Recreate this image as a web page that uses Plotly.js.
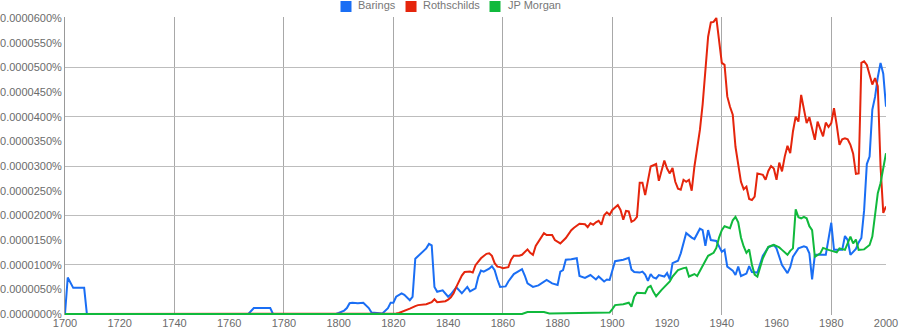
<!DOCTYPE html>
<html><head><meta charset="utf-8">
<script src="https://cdn.plot.ly/plotly-3.0.1.min.js"></script>
<style>html,body{margin:0;padding:0;background:#fff;overflow:hidden}</style>
</head><body><div id="chart" style="width:900px;height:330px"></div>
<script>
// Values in units of 0.0000010 % (so 60 = 0.0000600 %)
const seriesNames = ["Barings", "Rothschilds", "JP Morgan"];
const seriesColors = ["#1a6ef4", "#e5250c", "#10b93c"];

const baringsYears = [1700,1701,1703,1707,1708,1767,1769,1775,1776,1799,1800,1802,1803,1804,1805,1807,1809,1810,1811,1812,1816,1818,1819,1820,1821,1823,1824,1826,1827,1828,1830,1832,1833,1834,1835,1836,1838,1840,1841,1843,1845,1847,1848,1850,1851,1852,1853,1855,1856,1857,1858,1859,1861,1862,1864,1866,1867,1868,1869,1871,1873,1876,1878,1880,1881,1882,1883,1885,1887,1888,1890,1892,1894,1895,1897,1898,1899,1901,1904,1906,1907,1908,1910,1911,1912,1913,1914,1915,1916,1917,1919,1920,1921,1922,1924,1925,1927,1929,1930,1932,1933,1934,1935,1936,1938,1940,1941,1942,1944,1945,1946,1947,1949,1950,1951,1953,1955,1957,1959,1960,1962,1964,1965,1966,1968,1970,1971,1972,1973,1974,1978,1980,1981,1984,1985,1986,1987,1989,1990,1991,1992,1993,1994,1995,1996,1997,1998,1999,2000];
const baringsValues = [0,7.4,5.3,5.3,0,0,1.2,1.2,0,0,0.2,0.7,1.2,2.2,2.3,2.2,2.3,1.8,1.2,0.3,0.1,1.2,2.3,2.3,3.5,4.2,3.9,2.8,3.5,11.2,12.2,13.3,14.2,13.9,5.5,4.5,4.8,3.5,4.0,5.4,4.2,5.5,4.6,5.2,7.5,8.8,8.6,9.2,9.7,8.9,7.0,5.5,5.6,6.6,8.1,8.8,9.1,7.8,6.2,5.5,5.8,6.9,6.2,5.9,8.6,8.9,11.0,11.1,11.3,7.7,7.3,7.9,7.0,7.6,6.6,7.0,6.9,10.7,11.0,11.4,9.0,8.5,8.4,8.6,8.0,6.7,8.1,7.4,7.2,7.9,7.6,8.3,7.0,10.3,10.8,12.3,16.4,15.5,15.2,17.3,17.0,13.8,17.0,15.0,14.8,12.6,13.0,9.6,8.8,7.9,9.6,7.7,8.2,9.7,8.5,8.4,11.8,13.5,14.0,13.3,9.9,8.3,9.5,11.6,13.3,13.7,13.5,12.3,7.0,12.0,12.0,18.5,13.0,13.0,15.8,15.0,12.0,13.2,14.5,15.4,21.0,30.4,31.9,41.4,44.0,48.0,50.9,48.7,42.0];

const rothschildsYears = [1700,1820,1821,1822,1824,1826,1828,1829,1832,1834,1835,1836,1839,1840,1841,1842,1843,1844,1845,1846,1848,1849,1850,1852,1853,1854,1855,1856,1857,1858,1859,1860,1862,1863,1864,1866,1867,1869,1870,1871,1872,1874,1875,1876,1878,1879,1880,1881,1883,1885,1886,1888,1890,1891,1892,1893,1894,1895,1896,1897,1898,1899,1900,1901,1902,1903,1904,1905,1906,1907,1908,1909,1910,1911,1912,1914,1916,1917,1919,1920,1921,1922,1923,1924,1925,1926,1927,1928,1929,1930,1931,1932,1933,1934,1935,1936,1937,1938,1939,1940,1941,1942,1943,1944,1945,1946,1947,1948,1949,1950,1951,1952,1953,1955,1956,1957,1958,1959,1960,1961,1962,1963,1964,1965,1966,1967,1968,1969,1970,1971,1972,1973,1974,1975,1976,1977,1978,1979,1980,1981,1982,1983,1984,1985,1986,1987,1988,1989,1990,1991,1992,1993,1994,1995,1996,1997,1998,1999,2000];
const rothschildsValues = [0,0,0.1,0.2,0.6,1.1,1.6,1.8,2.0,2.4,3.0,2.4,2.6,2.9,3.4,4.2,5.5,6.8,7.8,8.5,8.6,8.4,9.9,11.3,11.8,12.2,12.3,11.8,10.3,9.6,9.5,9.3,9.5,11.0,11.8,11.8,12.0,13.1,12.4,12.0,13.8,15.5,16.4,16.0,16.0,15.0,14.7,14.3,15.4,17.0,17.5,18.3,18.2,17.6,18.4,18.1,18.6,18.9,18.1,20.0,20.6,20.1,21.1,21.6,22.1,21.1,19.1,20.9,20.8,18.7,19.0,19.7,26.6,26.6,24.1,29.9,30.4,27.0,31.1,29.5,28.5,29.6,26.8,25.4,25.2,27.2,26.8,27.2,25.0,29.9,33.5,37.3,42.5,49.0,56.2,59.1,59.2,60.0,55.0,50.9,50.5,44.1,42.0,40.4,33.9,30.6,26.8,25.3,25.8,23.3,23.1,23.8,28.5,28.2,27.2,29.0,30.0,29.5,27.2,30.7,28.9,31.9,34.1,32.6,37.0,40.0,39.0,44.4,41.4,38.7,39.9,37.7,35.3,39.0,37.5,36.0,38.8,37.9,38.7,41.7,38.3,34.3,35.4,35.6,35.4,34.3,32.5,28.4,28.5,50.9,51.2,50.5,48.5,46.5,47.8,46.2,30.0,20.5,21.8];

const jpMorganYears = [1700,1867,1869,1875,1877,1898,1899,1900,1901,1904,1906,1907,1908,1909,1912,1913,1914,1915,1916,1918,1919,1920,1921,1922,1924,1926,1927,1928,1930,1931,1933,1935,1937,1938,1939,1940,1941,1942,1943,1944,1945,1946,1947,1948,1949,1950,1951,1952,1953,1955,1957,1959,1961,1962,1964,1965,1966,1967,1968,1969,1970,1971,1972,1973,1974,1976,1977,1979,1982,1983,1985,1987,1988,1989,1990,1992,1993,1994,1995,1996,1997,1998,2000];
const jpMorganValues = [0,0,0.4,0.4,0.1,0.2,0.3,1.0,1.8,2.0,2.3,1.5,3.5,4.3,4.2,5.4,5.7,4.5,3.6,4.9,5.5,5.9,6.6,7.6,8.9,9.3,9.4,7.6,8.1,7.7,9.8,11.8,12.4,13.4,15.5,17.0,17.8,17.6,17.4,19.0,19.7,18.6,15.5,13.7,12.4,13.1,10.0,8.0,7.6,11.3,13.6,14.0,13.5,13.0,12.0,12.8,13.3,21.2,19.6,19.4,19.7,19.4,17.8,17.0,11.6,12.3,13.4,13.0,12.5,13.3,13.0,15.7,14.3,15.1,13.0,13.1,13.5,14.0,15.7,20.5,24.5,26.5,32.6];

const xTickValues = [1700,1720,1740,1760,1780,1800,1820,1840,1860,1880,1900,1920,1940,1960,1980,2000];
const xTickLabels = xTickValues.map(String);
const yTickValues = [0,5,10,15,20,25,30,35,40,45,50,55,60];
const yTickLabels = yTickValues.map(v => (v * 1e-6).toFixed(7) + "%");

const allYears = [baringsYears, rothschildsYears, jpMorganYears];
const allValues = [baringsValues, rothschildsValues, jpMorganValues];
const legendIds = ['legend', 'legend2', 'legend3'];
const legendX = [0.3179, 0.3971, 0.4994];      // legend square positions (paper x)
const legendLabelX = [0.3551, 0.4343, 0.5378]; // legend label positions (paper x)

const traces = [];
traces.push({x: baringsYears, y: baringsValues, xaxis: 'x2', yaxis: 'y2', mode: 'lines',
  line: {width: 0}, opacity: 0, hoverinfo: 'skip', showlegend: false});
for (let i = 0; i < 3; i++) {
  traces.push({x: allYears[i], y: allValues[i], mode: 'lines', name: seriesNames[i],
    line: {color: seriesColors[i], width: 2}, showlegend: false, hoverinfo: 'skip'});
}
for (let i = 0; i < 3; i++) {
  traces.push({x: [null], y: [null], mode: 'markers', name: '', legend: legendIds[i],
    marker: {symbol: 'square', size: 11, color: seriesColors[i]}, showlegend: true});
}

function legendDef(i) {
  return {orientation: 'h', x: legendX[i], xanchor: 'left', y: 0.9866, yanchor: 'bottom',
    font: {size: 11, color: '#777777'}, bgcolor: 'rgba(0,0,0,0)', itemwidth: 30};
}

const annotations = seriesNames.map((name, i) => ({
  text: name, xref: 'paper', yref: 'paper', x: legendLabelX[i], y: 1.0386,
  xanchor: 'left', yanchor: 'middle', showarrow: false,
  font: {size: 11, color: '#777777'}, borderpad: 0
}));

const layout = {
  width: 900, height: 330,
  margin: {l: 65, r: 14, t: 17, b: 15, autoexpand: false},
  paper_bgcolor: '#ffffff', plot_bgcolor: '#ffffff',
  font: {family: '"Liberation Sans", Arial, sans-serif', size: 11, color: '#6b6b6b'},
  showlegend: true,
  legend: legendDef(0), legend2: legendDef(1), legend3: legendDef(2),
  annotations: annotations,
  xaxis: {range: [1700, 2000], tickmode: 'array', tickvals: xTickValues, ticktext: xTickLabels,
    showgrid: false, zeroline: false, showline: false, ticks: '', fixedrange: true},
  yaxis: {range: [-0.2, 60.2], tickmode: 'array', tickvals: yTickValues, ticktext: yTickLabels,
    showgrid: false, zeroline: false, showline: true, linecolor: '#999999', linewidth: 1,
    ticks: '', fixedrange: true},
  xaxis2: {overlaying: 'x', anchor: 'y2', range: [1700, 2000], tick0: 1700, dtick: 40,
    showgrid: true, gridcolor: '#a8a8a8', gridwidth: 1, showticklabels: false, zeroline: false,
    ticks: '', showline: false, fixedrange: true},
  yaxis2: {overlaying: 'y', anchor: 'x2', range: [-0.2, 60.2], tick0: 0, dtick: 10,
    showgrid: true, gridcolor: '#bdbdbd', gridwidth: 1, showticklabels: false, zeroline: false,
    ticks: '', showline: false, fixedrange: true}
};

Plotly.newPlot('chart', traces, layout, {displayModeBar: false, staticPlot: true});
</script>
</body></html>
